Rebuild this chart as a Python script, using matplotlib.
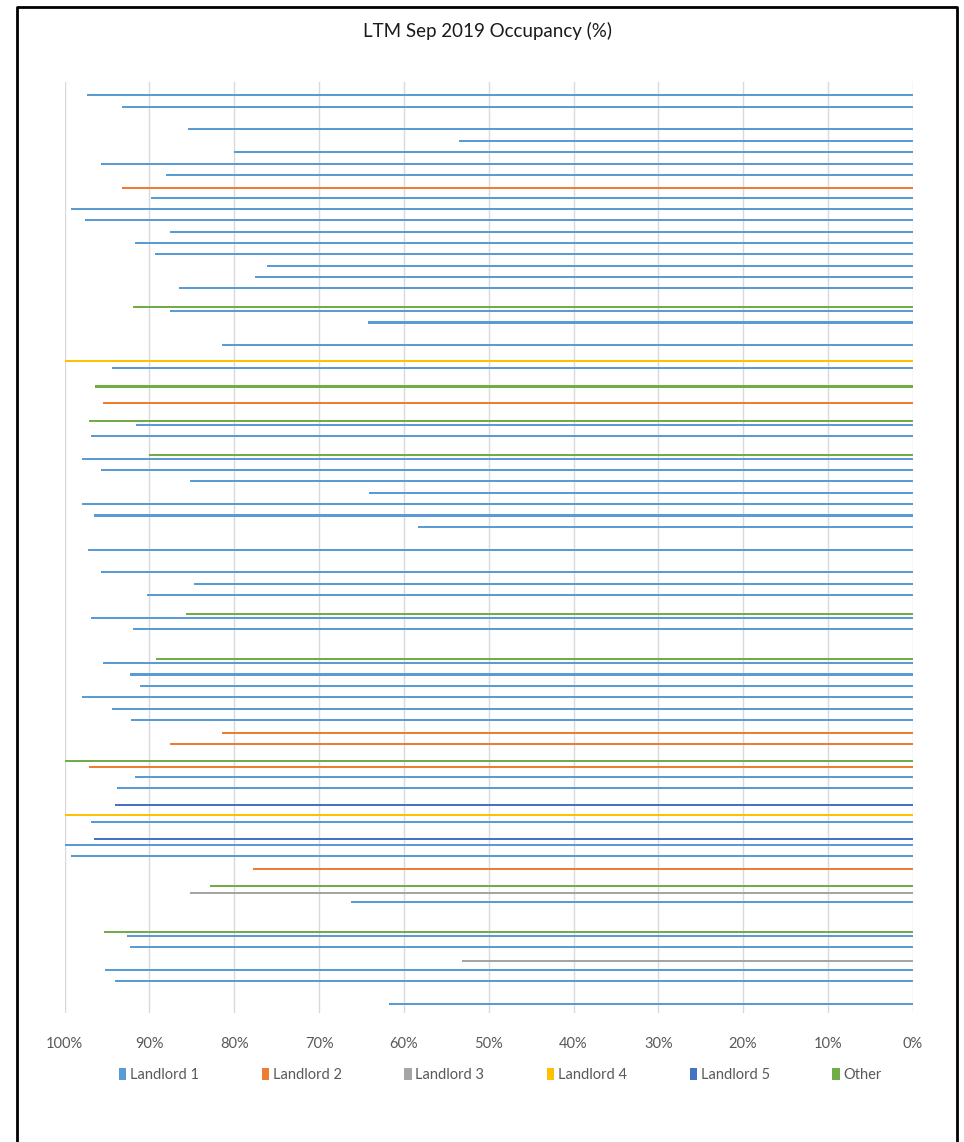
"""Bar chart of trailing-twelve-month occupancy by property, coloured by landlord."""
import matplotlib
matplotlib.use("Agg")
import matplotlib.pyplot as plt
from matplotlib.lines import Line2D
from matplotlib.patches import Patch

plt.rcParams["font.family"] = ["Lato", "DejaVu Sans"]

series_names = ["Landlord 1", "Landlord 2", "Landlord 3", "Landlord 4", "Landlord 5", "Other"]
series_colors = ["#5B9BD5", "#ED7D31", "#A5A5A5", "#FFC000", "#4472C4", "#70AD47"]

# landlord of each property (1-6 -> series_names), None where the row is empty
owner = [None, 1, 1, None, 1, 1, 1, 1, 1, 2,
         1, 1, 1, 1, 1, 1, 1, 1, 1, 6,
         1, 1, None, 1, 4, 1, 6, None, 2, 6,
         1, 1, 6, 1, 1, 1, 1, 1, 1, 1,
         None, 1, None, 1, 1, 1, 6, 1, 1, None,
         6, 1, 1, 1, 1, 1, 1, 2, 2, 6,
         2, 1, 1, 5, 4, 1, 5, 1, 1, 2,
         6, 3, 1, None, 6, 1, 1, 3, 1, 1,
         None, 1]

# occupancy in %
occupancy = [None, 97.4, 93.3, None, 85.4, 53.5, 80.0, 95.7, 88.1, 93.2,
             89.8, 99.3, 97.6, 87.6, 91.7, 89.4, 76.1, 77.5, 86.5, 92.0,
             87.6, 64.2, None, 81.5, 100.0, 94.4, 96.4, None, 95.5, 97.1,
             91.6, 96.9, 90.0, 97.9, 95.7, 85.2, 64.1, 97.9, 96.6, 58.3,
             None, 97.2, None, 95.7, 84.8, 90.3, 85.7, 96.9, 91.9, None,
             89.2, 95.5, 92.3, 91.1, 98.0, 94.4, 92.2, 81.5, 87.6, 100.0,
             97.1, 91.7, 93.8, 94.1, 100.0, 96.9, 96.6, 100.0, 99.3, 77.8,
             82.9, 85.2, 66.2, None, 95.4, 92.7, 92.3, 53.2, 95.2, 94.1,
             None, 61.7]

x_ticks = list(range(0, 101, 10))
x_labels = [f"{t}%" for t in x_ticks]

n_series = len(series_names)
bar_w = 1 / (n_series + 1.82)   # Excel-style cluster, gap width 182%

fig = plt.figure(figsize=(9.64, 11.42), dpi=100)
ax = fig.add_axes([0.0671, 0.1129, 0.8797, 0.8153])

for s in range(n_series):
    ys, vals = [], []
    for i, (o, v) in enumerate(zip(owner, occupancy)):
        if o == s + 1 and v is not None:
            ys.append(i + (s - (n_series - 1) / 2) * bar_w)
            vals.append(v)
    # no antialiasing so the thin bars come out as solid ~2px strokes
    ax.barh(ys, vals, height=0.18, color=series_colors[s], linewidth=0,
            antialiased=False)

ax.set_xlim(100, 0)
ax.set_ylim(len(owner) - 0.5, -0.5)
ax.set_xticks(x_ticks)
ax.set_xticklabels(x_labels, fontsize=10.5, color="#595959")
ax.set_yticks([])
ax.tick_params(axis="x", length=0, pad=17)
ax.grid(axis="x", color="#D9D9D9", linewidth=1)
ax.set_axisbelow(True)
for sp in ax.spines.values():
    sp.set_visible(False)

fig.text(0.5055, 0.9725, "LTM Sep 2019 Occupancy (%)", ha="center", va="center",
         fontsize=13.5, color="#1a1a1a")

handles = [Patch(facecolor=c, edgecolor="none") for c in series_colors]
fig.legend(handles, series_names, loc="center", bbox_to_anchor=(0.519, 0.0585),
           ncol=n_series, frameon=False, fontsize=10.5, handlelength=0.5,
           handleheight=0.9, handletextpad=0.25, columnspacing=4.3,
           labelcolor="#595959")

# outer frame
x0, x1, y_top = 17 / 964, 957.3 / 964, 1 - 7 / 1142
fig.add_artist(Line2D([x0, x0, x1, x1], [-0.01, y_top, y_top, -0.01],
                      transform=fig.transFigure, color="black", linewidth=2))

fig.savefig("out.png", dpi=100, facecolor="white")
